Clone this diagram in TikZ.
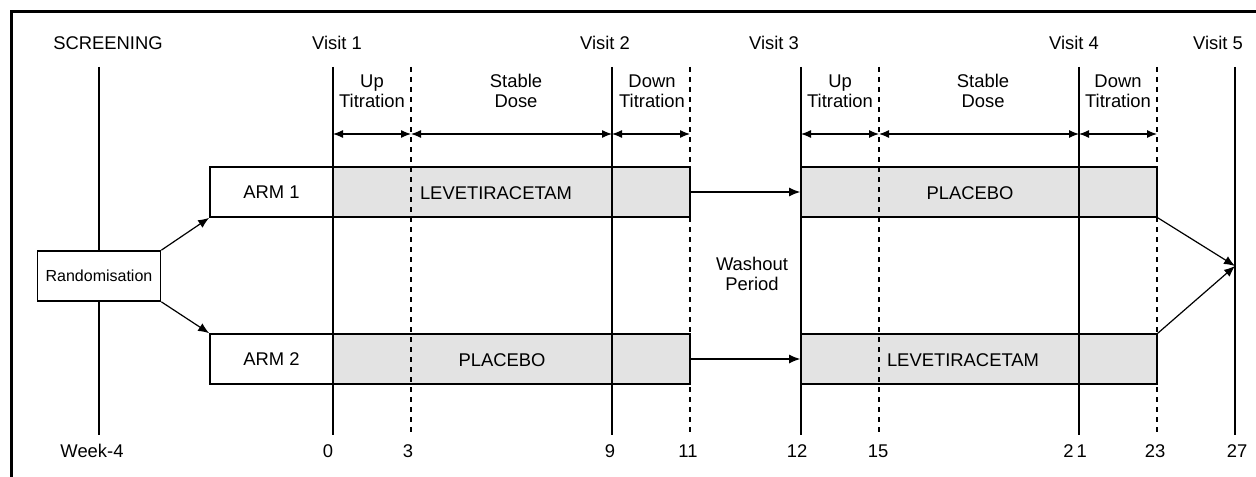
\documentclass[tikz,border=0pt]{standalone}
\usepackage{fontspec}
\setmainfont{Liberation Sans}
\usetikzlibrary{arrows.meta}
\tikzstyle{armbox} = [rectangle, draw, fill=white, line width=0.8pt, inner sep=0pt,
    minimum width=61.5pt, minimum height=25pt]
\tikzstyle{drugbar} = [rectangle, draw, line width=0.8pt, fill=black!11,
    inner sep=0pt, minimum height=25pt]
\tikzstyle{line} = [draw, line width=0.6pt, -{Latex[length=5.5pt,width=4.5pt]}]
\tikzstyle{span} = [draw, line width=0.6pt,
    {Latex[length=5pt,width=4pt]}-{Latex[length=5pt,width=4pt]}]
\tikzstyle{visit} = [draw, line width=0.8pt]
\tikzstyle{phase} = [draw, line width=0.8pt, dash pattern=on 2.5pt off 2.5pt]
\tikzstyle{lbl} = [inner sep=0pt, align=center]

\begin{document}
\begin{tikzpicture}[x=0.5pt, y=-0.5pt,
    every node/.style={font=\fontsize{9.2}{9.8}\selectfont}]

    \useasboundingbox (0,0) rectangle (1256,476);
    % Frame
    \draw [line width=1.5pt] (11,490) -- (11,12) -- (1270,12);

    % Drug bars
    \node [drugbar, minimum width=178.5pt] (bar11) at (511.5,192) {};
    \node [drugbar, minimum width=178pt] (bar12) at (979,192) {};
    \node [drugbar, minimum width=178.5pt] (bar21) at (511.5,359) {};
    \node [drugbar, minimum width=178pt] (bar22) at (979,359) {};

    % Time lines
    \foreach \x in {99,333,612,801,1079,1235}
        \path [visit] (\x,67) -- (\x,435);
    \foreach \x in {411,690,879,1157}
        \path [phase] (\x,67) -- (\x,433);

    % Place nodes
    \node [armbox, font=\fontsize{8}{9}\selectfont] (rand) at (99,276) {Randomisation};
    \node [armbox] (arm1) at (271.5,192) {ARM 1};
    \node [armbox] (arm2) at (271.5,359) {ARM 2};
    \node [lbl] (drug11) at (496,193) {LEVETIRACETAM};
    \node [lbl] (drug12) at (970,193) {PLACEBO};
    \node [lbl] (drug21) at (502,360) {PLACEBO};
    \node [lbl] (drug22) at (963,360) {LEVETIRACETAM};
    \coordinate (end) at (1235,266);

    % Top and bottom labels
    \foreach \x/\t/\n in {108/SCREENING/scr, 337/Visit 1/v1, 605/Visit 2/v2,
        774/Visit 3/v3, 1074/Visit 4/v4, 1218/Visit 5/v5}
        \node [lbl] (top\n) at (\x,43) {\t};
    \foreach \x/\t/\n in {92/Week-4/w4, 328/0/w0, 408/3/w3, 610/9/w9,
        688/11/w11, 797/12/w12, 878/15/w15, 1075/2\,1/w21, 1155/23/w23,
        1237/27/w27}
        \node [lbl] (bot\n) at (\x,451) {\t};
    \foreach \x/\n in {372/1, 840/2}
        \node [lbl] (up\n) at (\x,91) {Up\\Titration};
    \node [lbl] (stab1) at (516,91) {Stable\\Dose};
    \node [lbl] (stab2) at (983,91) {Stable\\Dose};
    \node [lbl] (down1) at (652,91) {Down\\Titration};
    \node [lbl] (down2) at (1118,91) {Down\\Titration};
    \node [lbl] (wash) at (752,274) {Washout\\Period};

    % Phase spans
    \foreach \a/\b in {333/411, 411/612, 612/690, 801/879, 879/1079, 1079/1157}
        \path [span] (\a,134) -- (\b,134);

    % Draw edges
    \path [line] (rand.north east) -- (arm1.south west);
    \path [line] (rand.south east) -- (arm2.north west);
    \path [line] (bar11.east) -- (bar12.west);
    \path [line] (bar21.east) -- (bar22.west);
    \path [line] (bar12.south east) -- (end);
    \path [line] (bar22.north east) -- (end);

\end{tikzpicture}
\end{document}
